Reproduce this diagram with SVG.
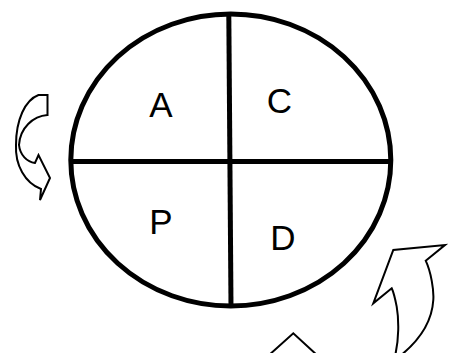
<svg xmlns="http://www.w3.org/2000/svg" width="456" height="353" viewBox="0 0 456 353">
<style>
.lbl{font-family:"Liberation Sans",Arial,sans-serif;font-size:35px;fill:#000;text-anchor:middle}
.arr{fill:#fff;stroke:#000;stroke-width:2;stroke-linejoin:miter}
.div{stroke:#000;stroke-width:5;fill:none}
</style>
<rect width="456" height="353" fill="#fff"/>
<g id="cycle">
<ellipse cx="230.8" cy="160" rx="160" ry="146" fill="#fff" stroke="#000" stroke-width="5"/>
</g>
<g id="connectors">
<line class="div" x1="70.8" y1="161.5" x2="390.8" y2="161.5"/>
<line class="div" x1="228.8" y1="14" x2="231" y2="306"/>
</g>
<g id="node-A"><text class="lbl" x="161" y="117.3">A</text></g>
<g id="node-C"><text class="lbl" x="279.5" y="112.5">C</text></g>
<g id="node-P"><text class="lbl" x="161" y="234">P</text></g>
<g id="node-D"><text class="lbl" x="283" y="250">D</text></g>
<g id="arrow-left">
<path class="arr" d="M38.5 95 L47.5 95 L47.5 115 C33 116 20 128 19 145 C20 155 27 162 35 163 L38.5 155 L50 178 L40 200 L41 189 C25 183 15 165 16 145 C16 120 25 100 38.5 95 Z"/>
</g>
<g id="arrow-right">
<path class="arr" d="M395 356 C399 340 399 320 396.7 306.7 C395 298 393.5 292 391.7 288.3 L373.3 303.3 L393.3 250 L445 245 L425.7 260.7 C431 272 434 290 433.3 300 C432 322 420 340 400 356 Z"/>
</g>
<g id="arrow-bottom">
<path class="arr" d="M268 356 L293.3 333.3 L318 356 Z"/>
</g>
</svg>
